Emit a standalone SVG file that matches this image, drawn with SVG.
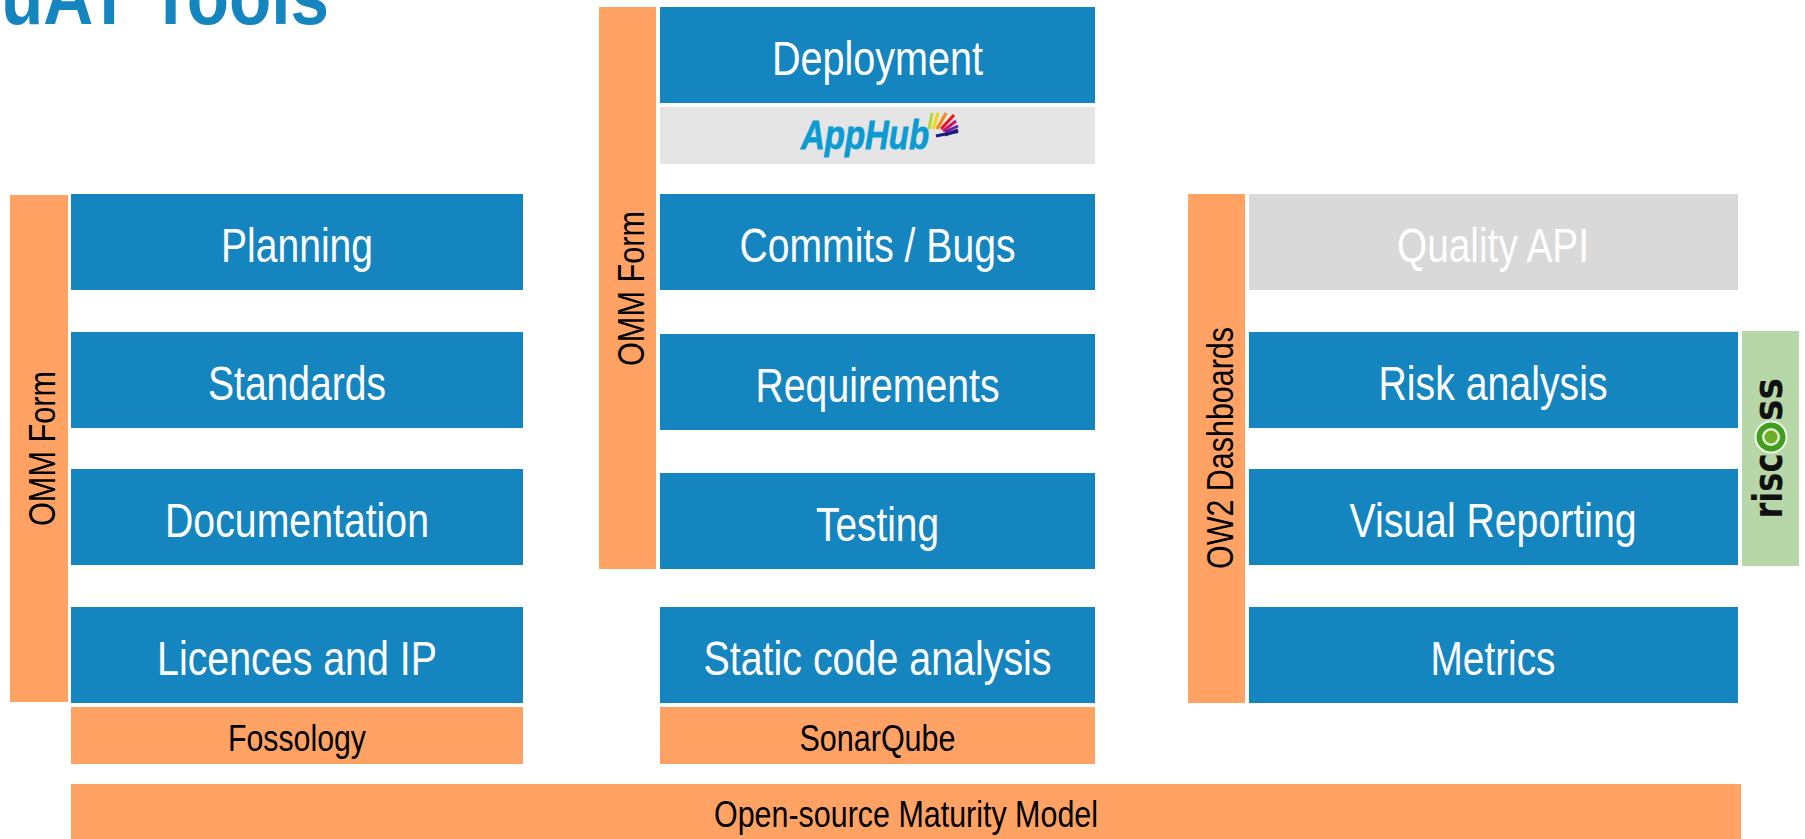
<svg xmlns="http://www.w3.org/2000/svg" width="1805" height="839" viewBox="0 0 1805 839">
<style>
text{font-family:"Liberation Sans",Arial,sans-serif;text-anchor:middle}
.b{fill:#1485bf}.o{fill:#ffa264}.g{fill:#d9d9d9}.l{fill:#e5e5e5}.r{fill:#b7d7a8}
.w{font-size:48px;fill:#fff}.k{font-size:36px;fill:#000}
.ray{stroke-width:3;fill:none;stroke-linecap:butt}
.logo{font-size:40px;font-weight:700;fill:#111}
</style>
<rect width="1805" height="839" fill="#fff"/>
<text id="title" x="165" y="24" font-size="80" font-weight="700" fill="#1485bf" textLength="328" lengthAdjust="spacingAndGlyphs">uAT Tools</text>

<g id="left-omm"><rect class="o" x="10" y="195" width="58" height="507"/><text class="k" transform="translate(55 448.5) rotate(-90)" textLength="155" lengthAdjust="spacingAndGlyphs">OMM Form</text></g>
<g id="planning"><rect class="b" x="71" y="194" width="452" height="96"/><text class="w" x="297" y="262" textLength="152" lengthAdjust="spacingAndGlyphs">Planning</text></g>
<g id="standards"><rect class="b" x="71" y="332" width="452" height="96"/><text class="w" x="297" y="400" textLength="178" lengthAdjust="spacingAndGlyphs">Standards</text></g>
<g id="documentation"><rect class="b" x="71" y="469" width="452" height="96"/><text class="w" x="297" y="537" textLength="264" lengthAdjust="spacingAndGlyphs">Documentation</text></g>
<g id="licences"><rect class="b" x="71" y="607" width="452" height="96"/><text class="w" x="297" y="675" textLength="280" lengthAdjust="spacingAndGlyphs">Licences and IP</text></g>
<g id="fossology"><rect class="o" x="71" y="707" width="452" height="57"/><text class="k" x="297" y="751" textLength="138" lengthAdjust="spacingAndGlyphs">Fossology</text></g>

<g id="mid-omm"><rect class="o" x="599" y="7" width="57" height="562"/><text class="k" transform="translate(644 288.5) rotate(-90)" textLength="155" lengthAdjust="spacingAndGlyphs">OMM Form</text></g>
<g id="deployment"><rect class="b" x="660" y="7" width="435" height="96"/><text class="w" x="877.5" y="75" textLength="211" lengthAdjust="spacingAndGlyphs">Deployment</text></g>
<g id="apphub"><rect class="l" x="660" y="107" width="435" height="57"/>
<text x="865" y="149" font-size="41" font-weight="700" font-style="italic" fill="#0a9bd2" stroke="#0a9bd2" stroke-width="0.8" textLength="128" lengthAdjust="spacingAndGlyphs">AppHub</text>
<g class="ray"><path d="M929 129 L932 113" stroke="#b5d334"/><path d="M933 129 L938 113" stroke="#f2d80a"/><path d="M937 129 L946 113" stroke="#f08a1c"/><path d="M941 129 L954 115" stroke="#e8141c"/><path d="M943 131 L956 121" stroke="#c0186c"/><path d="M945 132 L958 126" stroke="#6a1f9a"/><path d="M945 135 L958 130" stroke="#2a1a8c"/><path d="M936 136 L958 131.500" stroke="#1a1a7c"/></g></g>
<g id="commits"><rect class="b" x="660" y="194" width="435" height="96"/><text class="w" x="877.5" y="262" textLength="276" lengthAdjust="spacingAndGlyphs">Commits / Bugs</text></g>
<g id="requirements"><rect class="b" x="660" y="334" width="435" height="96"/><text class="w" x="877.5" y="402" textLength="244" lengthAdjust="spacingAndGlyphs">Requirements</text></g>
<g id="testing"><rect class="b" x="660" y="473" width="435" height="96"/><text class="w" x="877.5" y="541" textLength="123" lengthAdjust="spacingAndGlyphs">Testing</text></g>
<g id="static"><rect class="b" x="660" y="607" width="435" height="96"/><text class="w" x="877.5" y="675" textLength="348" lengthAdjust="spacingAndGlyphs">Static code analysis</text></g>
<g id="sonarqube"><rect class="o" x="660" y="707" width="435" height="57"/><text class="k" x="877.5" y="751" textLength="156" lengthAdjust="spacingAndGlyphs">SonarQube</text></g>

<g id="dashboards"><rect class="o" x="1188" y="194" width="57" height="509"/><text class="k" transform="translate(1233 448) rotate(-90)" textLength="242" lengthAdjust="spacingAndGlyphs">OW2 Dashboards</text></g>
<g id="quality"><rect class="g" x="1249" y="194" width="489" height="96"/><text class="w" x="1493" y="262" textLength="192" lengthAdjust="spacingAndGlyphs">Quality API</text></g>
<g id="risk"><rect class="b" x="1249" y="332" width="489" height="96"/><text class="w" x="1493" y="400" textLength="229" lengthAdjust="spacingAndGlyphs">Risk analysis</text></g>
<g id="visual"><rect class="b" x="1249" y="469" width="489" height="96"/><text class="w" x="1493" y="537" textLength="287" lengthAdjust="spacingAndGlyphs">Visual Reporting</text></g>
<g id="metrics"><rect class="b" x="1249" y="607" width="489" height="96"/><text class="w" x="1493" y="675" textLength="125" lengthAdjust="spacingAndGlyphs">Metrics</text></g>
<g id="riscoss"><rect class="r" x="1742" y="331" width="57" height="235"/>
<text class="logo" transform="translate(1782 486) rotate(-90)" style="font-family:'DejaVu Sans',sans-serif" textLength="65" lengthAdjust="spacingAndGlyphs">risc</text>
<text class="logo" transform="translate(1782 399.5) rotate(-90)" style="font-family:'DejaVu Sans',sans-serif" textLength="43" lengthAdjust="spacingAndGlyphs">ss</text>
<circle cx="1771" cy="437" r="16.500" fill="#f4f8ee"/><circle cx="1771" cy="437" r="14.500" fill="#3f9e1e"/><circle cx="1771" cy="437" r="9" fill="#e4f0d8"/><circle cx="1771" cy="437" r="6.500" fill="#6fae24"/></g>

<g id="omm"><rect class="o" x="71" y="784" width="1670" height="55"/><text class="k" x="906" y="827" textLength="384" lengthAdjust="spacingAndGlyphs">Open-source Maturity Model</text></g>
</svg>
